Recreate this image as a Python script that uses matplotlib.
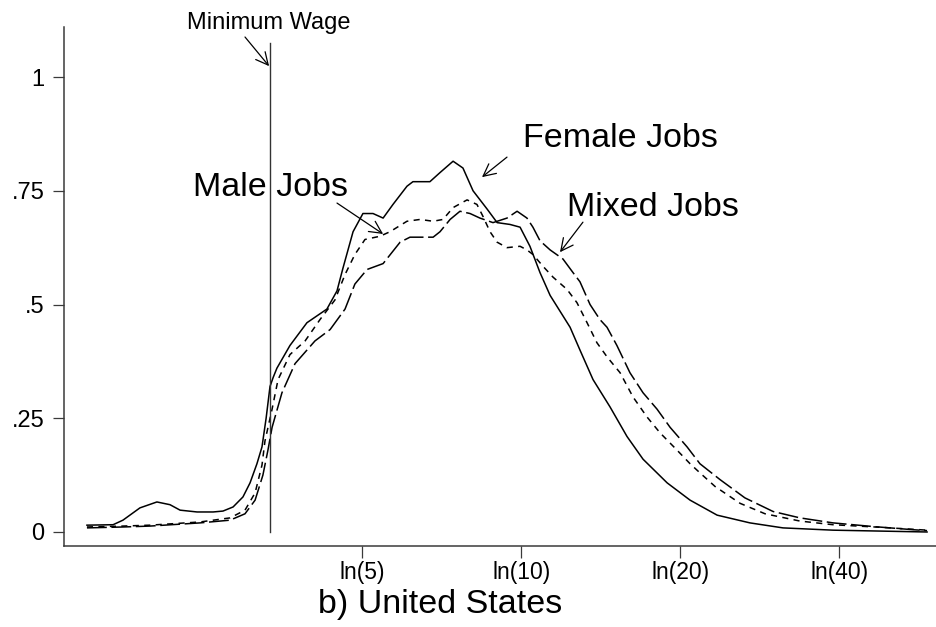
import numpy as np
import matplotlib
matplotlib.use("Agg")
import matplotlib.pyplot as plt

plt.rcParams['font.family'] = ['Liberation Sans', 'DejaVu Sans']

# ---- data: kernel densities of log hourly wages ----
female_x = [0.410, 0.524, 0.567, 0.641, 0.715, 0.772, 0.816, 0.890, 0.960, 1.003,
            1.047, 1.090, 1.121, 1.151, 1.173, 1.191, 1.208, 1.222, 1.238, 1.295,
            1.369, 1.456, 1.500, 1.526, 1.570, 1.613, 1.657, 1.701, 1.744, 1.805,
            1.831, 1.905, 1.949, 2.006, 2.049, 2.093, 2.154, 2.198, 2.254, 2.298,
            2.341, 2.385, 2.429, 2.516, 2.559, 2.616, 2.690, 2.764, 2.834, 2.939,
            3.039, 3.157, 3.300, 3.444, 3.662, 4.072]
female_y = [0.015, 0.016, 0.026, 0.053, 0.066, 0.060, 0.048, 0.044, 0.044, 0.046,
            0.055, 0.077, 0.108, 0.150, 0.187, 0.250, 0.320, 0.340, 0.360, 0.410,
            0.460, 0.490, 0.530, 0.580, 0.660, 0.700, 0.700, 0.690, 0.720, 0.760,
            0.770, 0.770, 0.790, 0.815, 0.800, 0.750, 0.710, 0.680, 0.676, 0.670,
            0.628, 0.570, 0.520, 0.450, 0.400, 0.335, 0.275, 0.210, 0.160, 0.108,
            0.070, 0.037, 0.020, 0.009, 0.004, 0.000]

male_x = [0.410, 0.567, 0.685, 0.903, 1.034, 1.099, 1.143, 1.173, 1.186, 1.217,
          1.243, 1.295, 1.361, 1.426, 1.491, 1.535, 1.578, 1.622, 1.687, 1.731,
          1.805, 1.862, 1.919, 1.962, 2.006, 2.067, 2.110, 2.136, 2.167, 2.198,
          2.241, 2.298, 2.328, 2.354, 2.398, 2.442, 2.503, 2.546, 2.590, 2.633,
          2.677, 2.734, 2.790, 2.851, 2.908, 2.982, 3.039, 3.082, 3.148, 3.257,
          3.366, 3.518, 3.662, 3.880, 4.072]
male_y = [0.011, 0.013, 0.015, 0.022, 0.031, 0.048, 0.086, 0.147, 0.200, 0.270,
          0.335, 0.390, 0.420, 0.467, 0.510, 0.566, 0.610, 0.643, 0.650, 0.660,
          0.683, 0.687, 0.683, 0.687, 0.713, 0.730, 0.720, 0.694, 0.660, 0.637,
          0.625, 0.628, 0.620, 0.610, 0.584, 0.560, 0.533, 0.504, 0.460, 0.416,
          0.385, 0.350, 0.297, 0.253, 0.218, 0.180, 0.150, 0.130, 0.100, 0.063,
          0.040, 0.024, 0.016, 0.010, 0.004]

mixed_x = [0.410, 0.567, 0.685, 0.903, 1.034, 1.099, 1.143, 1.177, 1.199, 1.217,
           1.260, 1.317, 1.404, 1.470, 1.535, 1.578, 1.631, 1.701, 1.775, 1.818,
           1.919, 1.949, 1.993, 2.036, 2.080, 2.123, 2.180, 2.241, 2.285, 2.328,
           2.354, 2.385, 2.429, 2.485, 2.529, 2.559, 2.603, 2.646, 2.677, 2.720,
           2.777, 2.834, 2.895, 2.952, 3.026, 3.082, 3.170, 3.278, 3.401, 3.518,
           3.662, 3.836, 4.011, 4.072]
mixed_y = [0.009, 0.011, 0.013, 0.020, 0.026, 0.040, 0.070, 0.125, 0.180, 0.230,
           0.306, 0.370, 0.420, 0.445, 0.490, 0.545, 0.577, 0.590, 0.637, 0.648,
           0.648, 0.660, 0.687, 0.705, 0.700, 0.690, 0.680, 0.690, 0.705, 0.690,
           0.670, 0.640, 0.620, 0.600, 0.570, 0.550, 0.500, 0.467, 0.450, 0.410,
           0.350, 0.306, 0.270, 0.230, 0.187, 0.150, 0.115, 0.075, 0.045, 0.031,
           0.020, 0.012, 0.005, 0.003]

min_wage = 3.35
wage_ticks = [5, 10, 20, 40]
wage_tick_labels = ['ln(5)', 'ln(10)', 'ln(20)', 'ln(40)']
y_ticks = [0, 0.25, 0.5, 0.75, 1]
y_tick_labels = ['0', '.25', '.5', '.75', '1']

W, H = 936, 627
fig = plt.figure(figsize=(W / 100, H / 100), dpi=100)
ax = fig.add_axes([64 / W, 1 - 546 / H, (W - 64) / W, (546 - 27) / H])

lw = 1.1
ax.plot(female_x, female_y, color='black', lw=lw, solid_joinstyle='round')
ax.plot(male_x, male_y, color='black', lw=lw, dashes=(4, 3.5))
ax.plot(mixed_x, mixed_y, color='black', lw=lw, dashes=(13, 3))

ax.plot([np.log(min_wage)] * 2, [0, 1.075], color='#333333', lw=1.0)

ax.set_xlim(0.310, 4.111)
ax.set_ylim(-0.0308, 1.110)

ax.set_xticks(np.log(wage_ticks))
ax.set_xticklabels(wage_tick_labels)
ax.set_yticks(y_ticks)
ax.set_yticklabels(y_tick_labels)

for s in ['top', 'right']:
    ax.spines[s].set_visible(False)
for s in ['left', 'bottom']:
    ax.spines[s].set_color('#3a3a3a')
    ax.spines[s].set_linewidth(1.1)

ax.tick_params(axis='x', length=8.6, width=0.9, color='#3a3a3a', pad=2.5, labelsize=16.5)
ax.tick_params(axis='y', length=8, width=0.9, color='#3a3a3a', pad=6, labelsize=17)

arrow = dict(arrowstyle='->', color='black', lw=0.9, mutation_scale=22, shrinkA=0, shrinkB=0)

ax.text(1.203, 1.119, 'Minimum Wage', ha='center', va='center', fontsize=17, clip_on=False)
ax.annotate('', xy=(1.204, 1.024), xytext=(1.099, 1.088), arrowprops=arrow, annotation_clip=False)

ax.text(1.208, 0.758, 'Male Jobs', ha='center', va='center', fontsize=24.5)
ax.annotate('', xy=(1.701, 0.655), xytext=(1.500, 0.723), arrowprops=arrow)

ax.text(2.734, 0.866, 'Female Jobs', ha='center', va='center', fontsize=24.5)
ax.annotate('', xy=(2.132, 0.780), xytext=(2.241, 0.824), arrowprops=arrow)

ax.text(2.878, 0.714, 'Mixed Jobs', ha='center', va='center', fontsize=24.5)
ax.annotate('', xy=(2.472, 0.615), xytext=(2.572, 0.681), arrowprops=arrow)

fig.text(440 / W, 1 - 604 / H, 'b) United States', ha='center', va='center', fontsize=24.5)

fig.savefig('out.png', dpi=100)
